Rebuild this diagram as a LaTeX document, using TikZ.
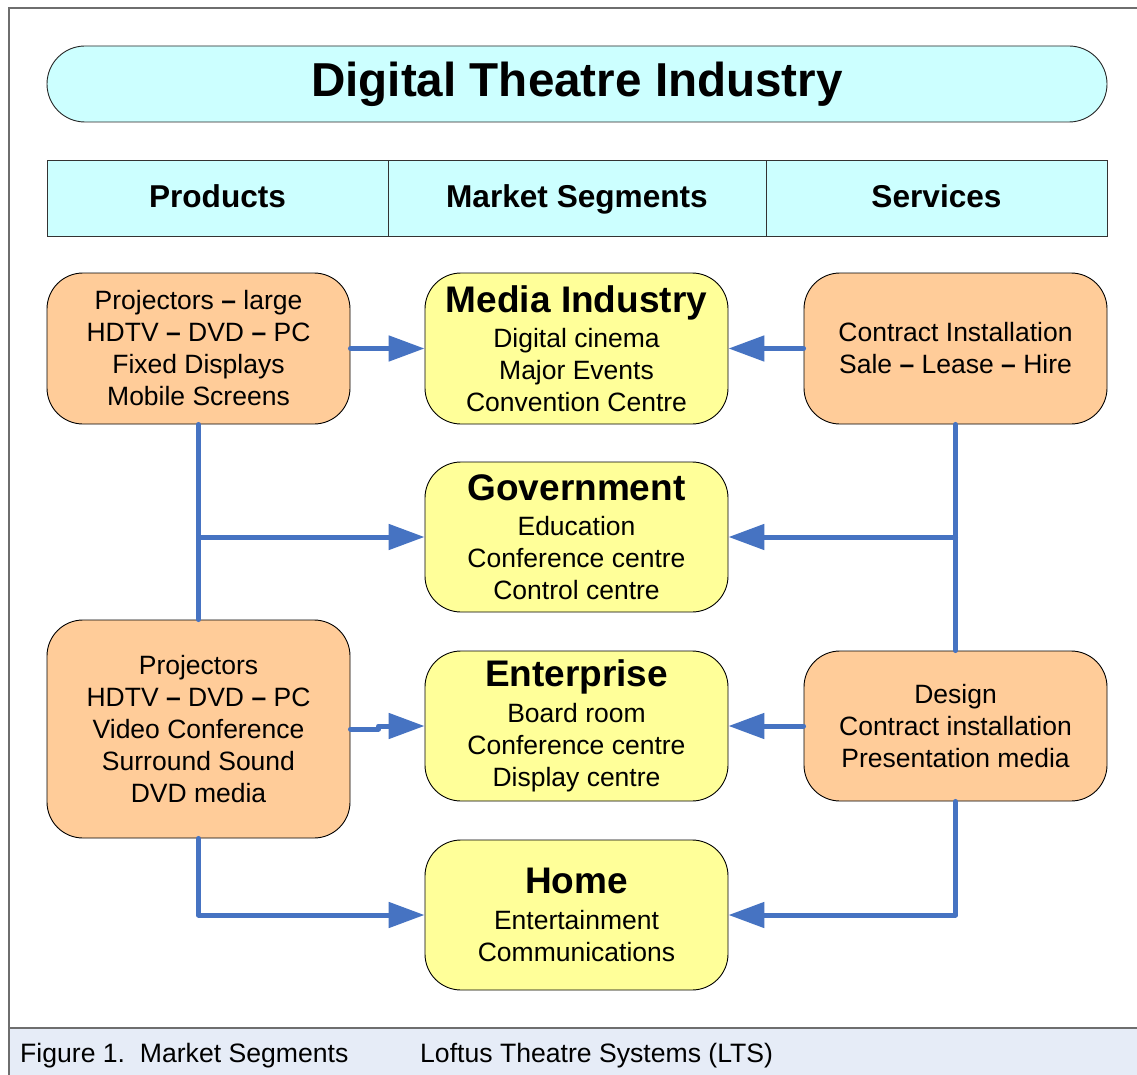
\documentclass[tikz,border=0pt]{standalone}
\usepackage{fontspec}
\setmainfont{Liberation Sans}
\usetikzlibrary{arrows.meta}

\definecolor{pillcyan}{HTML}{CCFFFF}
\definecolor{prodorange}{HTML}{FFCC99}
\definecolor{segyellow}{HTML}{FFFF99}
\definecolor{linkblue}{HTML}{4673C2}
\definecolor{captionbg}{HTML}{E6ECF7}
\definecolor{framegray}{HTML}{6E6E6E}

\newcommand{\dsh}{\textbf{--}}
\newcommand{\segtitle}[1]{{\fontsize{37}{40}\selectfont\bfseries #1}\\[3.5pt]}

\tikzset{
  bodyfont/.style={font=\fontsize{26.5}{32}\selectfont},
  card/.style={draw=black, line width=0.9pt, rounded corners=36pt,
    minimum width=303pt, inner sep=0pt, align=center, bodyfont},
  productbox/.style={card, fill=prodorange},
  segbox/.style={card, fill=segyellow, minimum height=150pt},
  headcell/.style={draw=black!80, line width=0.8pt, fill=pillcyan,
    minimum height=76pt, inner sep=0pt, text height=24pt, text depth=4pt,
    font=\fontsize{31.6}{36}\selectfont\bfseries},
  link/.style={draw=linkblue, line width=5pt, line cap=round, line join=round},
  arrowlink/.style={link, -{Triangle[length=36pt,width=25pt]}},
}

\begin{document}
\begin{tikzpicture}[x=1pt,y=-1pt]
  \useasboundingbox (0,0) rectangle (1137,1075);
  \fill[white] (0,0) rectangle (1137,1075);

  % outer frame and caption strip
  \fill[captionbg] (9,1028) rectangle (1137,1075);
  \draw[framegray, line width=1.4pt] (1137,1028) -- (9,1028);
  \draw[framegray, line width=1.4pt] (9,1075) -- (9,8) -- (1137,8);

  % title
  \node[draw=black!85, line width=0.9pt, fill=pillcyan, rounded corners=38pt,
        minimum width=1060pt, minimum height=76pt, inner sep=0pt,
        font=\fontsize{47.6}{54}\selectfont\bfseries]
        (title) at (577,84) {Digital Theatre Industry};

  % header row
  \node[headcell, minimum width=341pt] (hprod) at (217.5,198) {Products};
  \node[headcell, minimum width=378pt] (hseg)  at (577,198)   {Market Segments};
  \node[headcell, minimum width=341pt] (hserv) at (936.5,198) {Services};

  % products
  \node[productbox, minimum height=151pt] (prodA) at (198.5,348.5)
    {Projectors \dsh{} large\\HDTV \dsh{} DVD \dsh{} PC\\Fixed Displays\\Mobile Screens};
  \node[productbox, minimum height=218pt] (prodB) at (198.5,729)
    {Projectors\\HDTV \dsh{} DVD \dsh{} PC\\Video Conference\\Surround Sound\\DVD media};

  % market segments
  \node[segbox, minimum height=151pt] (media) at (576.5,348.5)
    {\segtitle{Media Industry}Digital cinema\\Major Events\\Convention Centre};
  \node[segbox] (gov) at (576.5,537)
    {\segtitle{Government}Education\\Conference centre\\Control centre};
  \node[segbox] (ent) at (576.5,726)
    {\segtitle{Enterprise}Board room\\Conference centre\\Display centre};
  \node[segbox] (home) at (576.5,915)
    {\segtitle{Home}Entertainment\\Communications};

  % services
  \node[productbox, minimum height=151pt] (servA) at (955.5,348.5)
    {Contract Installation\\Sale \dsh{} Lease \dsh{} Hire};
  \node[productbox, minimum height=150pt] (servB) at (955.5,726)
    {Design\\Contract installation\\Presentation media};

  % product links
  \draw[arrowlink] (prodA.east) -- (media.west);
  \draw[link] (prodA.south) -- (prodB.north);
  \draw[arrowlink] (prodA.south |- gov.west) -- (gov.west);
  \draw[arrowlink] (prodB.east) -- ([xshift=28pt]prodB.east) |- (ent.west);
  \draw[arrowlink] (prodB.south) |- (home.west);

  % service links
  \draw[arrowlink] (servA.west) -- (media.east);
  \draw[link] (servA.south) -- (servB.north);
  \draw[arrowlink] (servA.south |- gov.east) -- (gov.east);
  \draw[arrowlink] (servB.west) -- (ent.east);
  \draw[arrowlink] (servB.south) |- (home.east);

  % caption
  \node[anchor=west, inner sep=0pt, font=\fontsize{26.6}{30}\selectfont]
    (figcap) at (20,1056) {Figure 1.\ \ Market Segments};
  \node[anchor=west, inner sep=0pt, font=\fontsize{26.6}{30}\selectfont]
    (credit) at (420,1056) {Loftus Theatre Systems (LTS)};
\end{tikzpicture}
\end{document}
